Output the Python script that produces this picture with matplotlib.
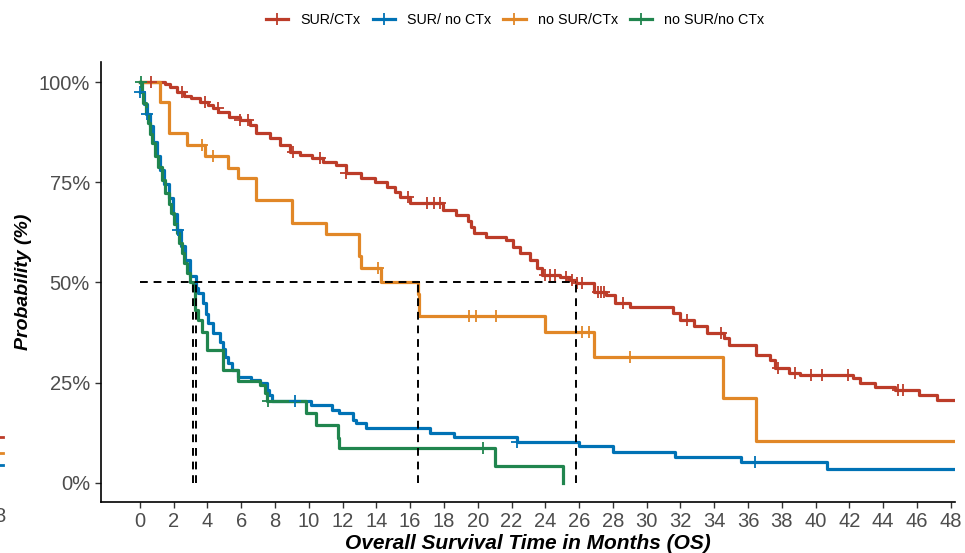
import numpy as np
import matplotlib
matplotlib.use('Agg')
import matplotlib.pyplot as plt
from matplotlib.lines import Line2D

plt.rcParams['font.family'] = ['Liberation Sans', 'DejaVu Sans']

# ---- data (time in months, survival in %) ----
labels = ['SUR/CTx', 'SUR/ no CTx', 'no SUR/CTx', 'no SUR/no CTx']
colors = ['#BC3C29', '#0072B5', '#E18727', '#20854E']

sur_ctx_t = [0, 1.5, 1.8, 2.2, 2.6, 3.0, 3.55, 4.05, 4.35, 4.65, 5.3, 5.9, 6.5, 6.9, 7.7,
             8.3, 8.9, 9.5, 10.2, 10.85, 11.6, 12.2, 13.1, 13.9, 14.6, 15.1, 15.4, 16.0,
             17.95, 18.7, 19.4, 19.6, 19.75, 20.5, 21.7, 22.1, 22.5, 23.1, 23.5, 23.8,
             24.85, 25.4, 25.84, 26.9, 27.6, 28.1, 29.0, 31.55, 31.95, 32.8, 33.6, 34.6,
             34.9, 36.5, 37.3, 37.6, 38.4, 39.05, 42.2, 42.6, 43.5, 44.7, 46.15, 47.2, 48.25]
sur_ctx_s = [100, 99.5, 98.8, 97.6, 96.6, 96.0, 95.1, 94.2, 93.4, 92.6, 91.3, 90.5, 89.3, 87.2, 86.0,
             84.3, 82.6, 81.8, 81.0, 80.0, 79.3, 77.4, 76.0, 75.1, 73.9, 72.6, 71.4, 69.7,
             68.1, 66.8, 65.2, 63.8, 62.3, 61.4, 60.6, 58.9, 57.3, 55.6, 53.5, 51.9,
             51.4, 50.6, 49.8, 47.7, 46.9, 44.8, 43.8, 42.3, 40.6, 39.0, 37.3, 36.1,
             34.4, 31.9, 30.7, 28.6, 27.4, 26.9, 26.1, 24.9, 24.0, 23.2, 21.9, 20.7, 20.7]
sur_ctx_cens = [0.63, 2.47, 3.85, 4.63, 5.9, 6.4, 9.05, 10.65, 12.2, 15.9, 17.0, 17.4, 17.75,
                24.0, 24.3, 24.6, 25.2, 25.6, 25.9, 26.2, 27.1, 27.3, 27.5, 28.6, 32.4, 34.4,
                37.8, 38.8, 39.7, 40.4, 41.9, 44.9, 45.2]

sur_noctx_t = [0, 0.25, 0.4, 0.6, 0.8, 1.0, 1.2, 1.45, 1.7, 1.95, 2.2, 2.45, 2.7, 2.95, 3.31,
               3.45, 3.75, 3.9, 4.04, 4.34, 4.73, 4.9, 5.03, 5.2, 5.43, 5.8, 6.6, 7.1, 7.5,
               7.65, 7.8, 10.15, 11.35, 11.8, 12.6, 12.8, 13.4, 17.2, 18.6, 22.3, 26.0, 28.0,
               31.65, 35.56, 40.7, 48.25]
sur_noctx_s = [97.4, 94.5, 92.0, 89.0, 85.0, 81.5, 78.0, 74.5, 71.0, 67.0, 63.0, 59.0, 55.5, 51.5, 48.5,
               47.3, 44.8, 42.0, 39.8, 37.3, 35.2, 33.5, 31.5, 30.0, 28.2, 26.5, 25.7, 24.9, 23.2,
               21.8, 20.3, 19.5, 18.2, 17.4, 15.7, 14.9, 13.6, 12.5, 11.4, 10.1, 9.1, 7.6,
               6.4, 5.3, 3.5, 3.5]
sur_noctx_cens = [0, 0.45, 2.25, 9.2, 22.3, 36.4]

nosur_ctx_t = [0, 1.18, 1.7, 2.76, 3.85, 5.2, 5.8, 6.9, 9.03, 11.0, 12.96, 13.1, 14.3, 16.45,
               16.55, 24.0, 26.9, 34.5, 36.5, 48.25]
nosur_ctx_s = [100, 95.0, 87.2, 84.3, 81.5, 78.6, 76.0, 70.6, 64.8, 62.0, 56.5, 53.6, 50.2, 47.0,
               41.6, 37.7, 31.5, 21.2, 10.5, 10.5]
nosur_ctx_cens = [3.65, 4.34, 14.1, 19.5, 19.9, 21.1, 26.2, 26.6, 29.0]

nosur_noctx_t = [0, 0.1, 0.2, 0.35, 0.5, 0.6, 0.7, 0.9, 1.08, 1.3, 1.48, 1.7, 1.87, 2.0, 2.17,
                 2.3, 2.47, 2.6, 2.76, 2.96, 3.12, 3.25, 3.45, 3.65, 3.95, 4.93, 5.8, 7.1, 7.4,
                 7.5, 9.86, 10.45, 11.7, 11.8, 21.0, 25.05]
nosur_noctx_s = [100, 97.5, 94.7, 92.0, 89.7, 87.0, 84.7, 81.5, 78.9, 75.5, 72.2, 69.5, 67.3, 64.5, 62.3,
                 59.8, 57.3, 54.8, 52.3, 50.2, 48.1, 43.1, 40.6, 37.7, 33.2, 28.2, 25.3, 24.4, 22.4,
                 20.3, 17.4, 14.5, 11.1, 8.6, 4.2, 0]
nosur_noctx_cens = [0.05, 7.6, 20.3]

series = [
    (sur_ctx_t, sur_ctx_s, sur_ctx_cens),
    (sur_noctx_t, sur_noctx_s, sur_noctx_cens),
    (nosur_ctx_t, nosur_ctx_s, nosur_ctx_cens),
    (nosur_noctx_t, nosur_noctx_s, nosur_noctx_cens),
]


def surv_at(t, s, x):
    t = np.asarray(t)
    idx = np.searchsorted(t, x, side='right') - 1
    idx = np.clip(idx, 0, len(t) - 1)
    return np.asarray(s)[idx]


def median_time(t, s):
    for ti, si in zip(t, s):
        if si <= 50:
            return ti
    return None


fig = plt.figure(figsize=(9.65, 5.53), dpi=100)
ax = fig.add_axes([0.1047, 0.0922, 0.8849, 0.7957])

for (t, s, c), col in zip(series, colors):
    ax.step(t, s, where='post', color=col, lw=2.3, zorder=3)
    ax.plot(c, surv_at(t, s, c), ls='none', marker='+', ms=8, mew=1.3, color=col, zorder=4)

# median lines
meds = [median_time(t, s) for t, s, _ in series]
ax.plot([0, max(meds)], [50, 50], color='black', lw=1.4, ls=(0, (4, 3)), zorder=5)
for m in meds:
    ax.plot([m, m], [0, 50], color='black', lw=1.4, ls=(0, (4, 3)), zorder=5)

ax.set_xlim(-2.3, 48.25)
ax.set_ylim(-4.8, 105)
ax.set_xticks(np.arange(0, 49, 2))
ax.set_yticks([0, 25, 50, 75, 100])
ax.set_yticklabels(['0%', '25%', '50%', '75%', '100%'])
ax.tick_params(axis='both', labelsize=14.5, colors='#333333', labelcolor='#4D4D4D',
               length=4.5, width=1.0)
ax.tick_params(axis='x', pad=2.5)
for side in ['top', 'right']:
    ax.spines[side].set_visible(False)
for side in ['left', 'bottom']:
    ax.spines[side].set_linewidth(1.2)

ax.set_xlabel('Overall Survival Time in Months (OS)', fontsize=15, fontweight='bold',
              fontstyle='italic', labelpad=2)
ax.set_ylabel('Probability (%)', fontsize=14, fontweight='bold', fontstyle='italic',
              labelpad=5)

handles = [Line2D([0], [0], color=col, lw=2.3, marker='+', ms=8, mew=1.3) for col in colors]
fig.legend(handles, labels, loc='upper center', bbox_to_anchor=(0.534, 1.0), ncol=4,
           frameon=False, fontsize=10.3, handlelength=1.55, handletextpad=0.85,
           columnspacing=0.85)

# bits of the neighbouring panel cut off at the left edge
fig.text(0.0, 1 - 516 / 553, '8', ha='center', va='center', fontsize=14.5, color='#4D4D4D')
for yy, col in zip([437, 453, 465], [colors[0], colors[2], colors[1]]):
    fig.add_artist(Line2D([0, 0.003], [1 - yy / 553] * 2, color=col, lw=2.0))

fig.savefig('out.png', dpi=100)
